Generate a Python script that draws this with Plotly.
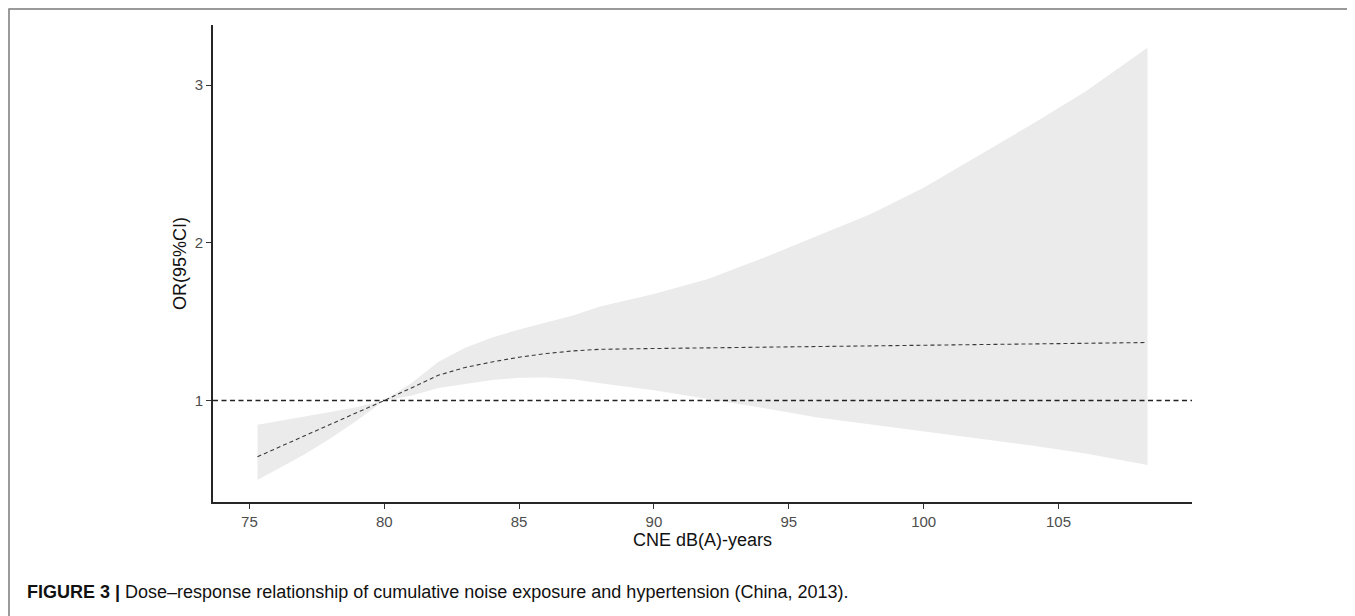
import plotly.graph_objects as go

# Cumulative noise exposure (CNE, dB(A)-years)
cne = [75.3, 76, 77, 78, 79, 80, 81, 82, 83, 84, 85, 86, 87, 88, 90, 92, 94, 96,
       98, 100, 102, 104, 106, 108.3]
# Odds ratio estimate
or_est = [0.644, 0.698, 0.775, 0.85, 0.925, 1.0, 1.08, 1.16, 1.21, 1.245, 1.275,
          1.298, 1.315, 1.325, 1.330, 1.334, 1.338, 1.342, 1.345, 1.348, 1.352,
          1.356, 1.360, 1.368]
# 95% CI lower / upper
or_lower = [0.497, 0.56, 0.655, 0.76, 0.875, 1.0, 1.03, 1.08, 1.105, 1.13, 1.145,
            1.146, 1.135, 1.11, 1.065, 1.01, 0.955, 0.895, 0.85, 0.805, 0.76,
            0.715, 0.665, 0.592]
or_upper = [0.846, 0.866, 0.894, 0.927, 0.96, 1.0, 1.11, 1.245, 1.335, 1.40, 1.45,
            1.495, 1.54, 1.597, 1.675, 1.77, 1.90, 2.04, 2.18, 2.35, 2.55, 2.75,
            2.96, 3.237]
reference_or = 1
x_ticks = [75, 80, 85, 90, 95, 100, 105]
y_ticks = [1, 2, 3]

caption_bold = "FIGURE 3 |"
caption_text = " Dose\u2013response relationship of cumulative noise exposure and hypertension (China, 2013)."

FONT = "Liberation Sans, Arial, sans-serif"
OFF = 8  # page body margin
W, H = 1355 - OFF, 616 - OFF
L = 213 - OFF
T = 25 - OFF
PR = 1192 - OFF
PB = 502 - OFF
R, B = W - PR, H - PB
pw, ph = PR - L, PB - T


def px_to_paper_x(px):
    return (px - OFF - L) / pw


def px_to_paper_y(py):
    return (PB - (py - OFF)) / ph


fig = go.Figure()
fig.add_trace(go.Scatter(x=cne, y=or_lower, mode="lines", line=dict(width=0),
                         hoverinfo="skip", showlegend=False))
fig.add_trace(go.Scatter(x=cne, y=or_upper, mode="lines", line=dict(width=0),
                         fill="tonexty", fillcolor="#ebebeb", hoverinfo="skip",
                         showlegend=False))
fig.add_trace(go.Scatter(x=cne, y=or_est, mode="lines",
                         line=dict(color="#3a3a3a", width=1.1, dash="4px,3px"),
                         showlegend=False))

# reference line at OR = 1
fig.add_shape(type="line", xref="paper", x0=0, x1=1, yref="y",
              y0=reference_or, y1=reference_or,
              line=dict(color="#222222", width=1.5, dash="5px,3.5px"))

# outer frame (open at the bottom)
fx0, fx1 = px_to_paper_x(9), px_to_paper_x(1354)
fy0, fy1 = px_to_paper_y(640), px_to_paper_y(9)
fig.add_shape(type="path", xref="paper", yref="paper",
              path=f"M {fx0} {fy0} L {fx0} {fy1} L {fx1} {fy1} L {fx1} {fy0}",
              line=dict(color="#7a7a7a", width=1.5))

fig.add_annotation(xref="paper", yref="paper", x=px_to_paper_x(25),
                   y=px_to_paper_y(592), xanchor="left", yanchor="middle",
                   showarrow=False,
                   text=f"<b>{caption_bold}</b>{caption_text}",
                   font=dict(family=FONT, size=18, color="#111111"))

axis_common = dict(showline=True, linecolor="#262626", linewidth=1.6,
                   ticks="outside", ticklen=5, tickwidth=1.2, tickcolor="#333333",
                   showgrid=False, zeroline=False,
                   tickfont=dict(family=FONT, size=15, color="#4d4d4d"))

fig.update_xaxes(range=[73.65, 109.95], tickvals=x_ticks,
                 title=dict(text="CNE dB(A)-years", standoff=2,
                            font=dict(family=FONT, size=18, color="#111111")),
                 **axis_common)
fig.update_yaxes(range=[0.357, 3.381], tickvals=y_ticks,
                 title=dict(text="OR(95%CI)", standoff=4,
                            font=dict(family=FONT, size=18, color="#111111")),
                 **axis_common)

fig.update_layout(width=W, height=H, autosize=False,
                  margin=dict(l=L, r=R, t=T, b=B),
                  plot_bgcolor="white", paper_bgcolor="white",
                  showlegend=False)

fig.write_html("out.html")
